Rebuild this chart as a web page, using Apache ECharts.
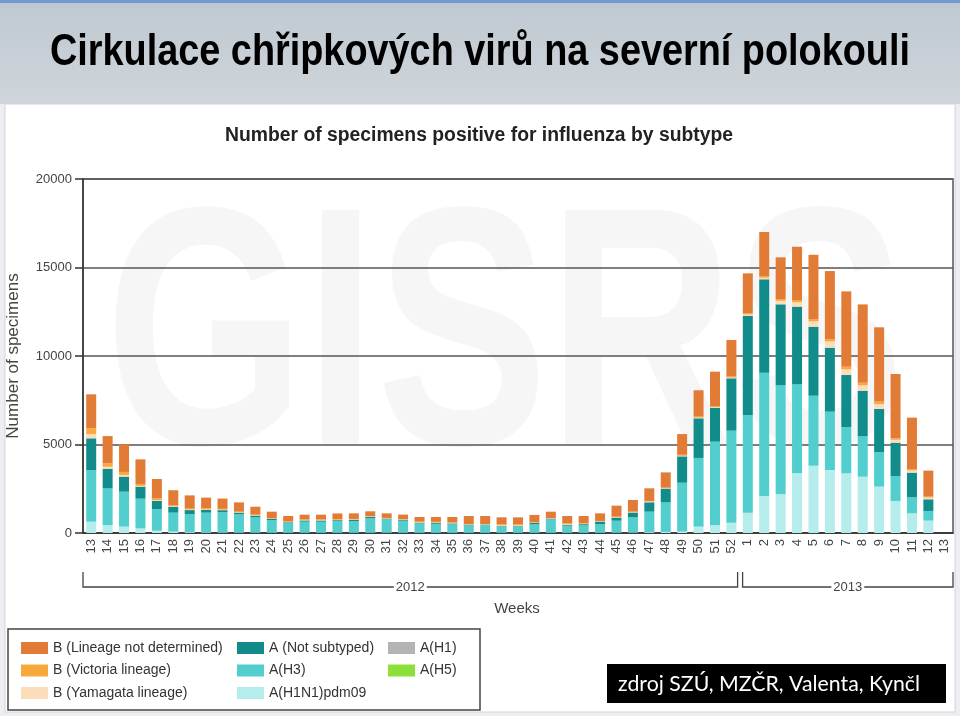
<!DOCTYPE html>
<html>
<head>
<meta charset="utf-8">
<script src="https://cdn.jsdelivr.net/npm/echarts/dist/echarts.min.js"></script>
<style>
  html, body { margin: 0; padding: 0; background: #ffffff; }
  #chart { width: 960px; height: 716px; }
</style>
</head>
<body>
<div id="chart"></div>
<script>
// ---------------- DATA ----------------
const weeks = ['13','14','15','16','17','18','19','20','21','22','23','24','25','26','27',
  '28','29','30','31','32','33','34','35','36','37','38','39','40','41','42','43','44','45','46',
  '47','48','49','50','51','52',
  '1','2','3','4','5','6','7','8','9','10','11','12','13'];
const years = ['2012', '2013'];

const pageTitle = 'Cirkulace chřipkových virů na severní polokouli';
const chartTitle = 'Number of specimens positive for influenza by subtype';
const yAxisTitle = 'Number of specimens';
const xAxisTitle = 'Weeks';
const sourceNote = 'zdroj SZÚ, MZČR, Valenta, Kynčl';

const seriesNames = ['B (Lineage not determined)', 'B (Victoria lineage)', 'B (Yamagata lineage)',
  'A (Not subtyped)', 'A(H3)', 'A(H1N1)pdm09', 'A(H1)', 'A(H5)'];

const bNotDetermined = [1920,1545,1560,1390,1075,850,750,600,580,525,450,375,300,265,265,
  320,315,265,260,265,260,275,305,450,450,395,405,410,360,400,400,430,620,660,
  715,865,1170,1490,1940,2070,
  2260,2485,2355,3010,3635,3840,4255,4425,4195,3635,2920,1470,0];
const bVictoria = [320,190,170,110,110,45,50,70,50,40,40,20,40,40,45,
  40,30,30,20,25,40,50,40,25,25,60,50,25,20,70,40,25,40,30,
  35,40,60,55,55,55,
  70,100,100,125,130,140,150,150,145,85,70,50,0];
const bYamagata = [245,110,95,40,40,30,30,30,25,20,20,15,15,20,20,
  20,20,20,15,15,20,20,20,15,15,40,40,15,15,40,20,15,20,20,
  40,20,30,40,40,40,
  80,90,200,250,300,350,320,300,270,160,120,100,0];
const aNotSubtyped = [1790,1110,850,680,470,340,225,150,110,90,90,60,60,70,70,
  50,70,80,40,40,40,50,50,40,30,30,30,80,40,40,70,130,170,270,
  530,770,1490,2240,1920,2960,
  5590,5270,4575,4390,3900,3615,2935,2580,2450,1885,1395,660,0];
const aH3 = [2920,2070,1975,1680,1225,1075,1020,1110,1150,1025,865,720,530,625,620,
  660,660,815,760,680,535,500,480,420,430,350,350,480,760,400,420,500,680,865,
  1155,1670,2760,3880,4710,5200,
  5520,6970,6160,5030,3955,3295,2620,2280,1940,1410,905,545,0];
const aH1N1pdm09 = [640,450,360,260,130,75,50,40,30,30,20,15,15,15,15,
  15,15,15,15,15,10,10,10,10,10,10,10,10,10,10,10,10,15,20,
  50,60,80,360,450,580,
  1150,2090,2185,3370,3800,3560,3370,3180,2620,1810,1110,700,0];
const aH1 = [0,0,0,0,0,0,0,0,0,0,0,0,0,0,0,0,0,0,0,0,0,0,0,0,0,0,0,0,0,0,0,0,0,0,0,0,0,0,0,0,0,0,0,0,0,0,0,0,0,0,0,0,0];
const aH5 = [0,0,0,0,0,0,0,0,0,0,0,0,0,0,0,0,0,0,0,0,0,0,0,0,0,0,0,0,0,0,0,0,0,0,0,0,0,0,0,0,0,0,0,0,0,0,0,0,0,0,0,0,0];

// ---------------- STYLE ----------------
const FONT = "'Liberation Sans', Arial, sans-serif";
const colors = {
  'B (Lineage not determined)': '#E27B36',
  'B (Victoria lineage)': '#F8A93B',
  'B (Yamagata lineage)': '#FCDDBB',
  'A (Not subtyped)': '#118C8B',
  'A(H3)': '#52CECF',
  'A(H1N1)pdm09': '#B5ECEC',
  'A(H1)': '#B4B4B4',
  'A(H5)': '#8BE03A'
};

function bar(name, data) {
  return { name, type: 'bar', stack: 'total', data, barWidth: 10,
    itemStyle: { color: colors[name] }, emphasis: { disabled: true } };
}

function fitScale(text, font, target) {
  const ctx = document.createElement('canvas').getContext('2d');
  ctx.font = font;
  return target / ctx.measureText(text).width;
}

const legendCommon = {
  orient: 'vertical', icon: 'rect', itemWidth: 27, itemHeight: 12, itemGap: 8.5,
  padding: 0, selectedMode: false,
  textStyle: { fontSize: 14, color: '#333', fontFamily: FONT, lineHeight: 13 }
};

const chart = echarts.init(document.getElementById('chart'), null, { renderer: 'canvas' });
chart.setOption({
  animation: false,
  backgroundColor: '#ffffff',
  textStyle: { fontFamily: FONT },
  grid: { left: 83, right: 7, top: 179, bottom: 183, show: true,
    borderColor: '#555', borderWidth: 1.5, backgroundColor: 'transparent' },
  legend: [
    Object.assign({}, legendCommon, { left: 21, top: 641, data: seriesNames.slice(0, 3) }),
    Object.assign({}, legendCommon, { left: 237, top: 641, data: seriesNames.slice(3, 6) }),
    Object.assign({}, legendCommon, { left: 388, top: 641, data: seriesNames.slice(6, 8) })
  ],
  xAxis: {
    type: 'category', data: weeks,
    axisLine: { lineStyle: { color: '#333', width: 1.5 } },
    axisTick: { alignWithLabel: true, length: 6, lineStyle: { color: '#333', width: 1.5 } },
    axisLabel: { rotate: 90, fontSize: 13, color: '#444', margin: 6, interval: 0 }
  },
  yAxis: {
    type: 'value', min: 0, max: 20000, interval: 5000,
    axisLine: { show: true, lineStyle: { color: '#333', width: 1.5 } },
    axisTick: { show: true, length: 8, lineStyle: { color: '#333', width: 1.5 } },
    axisLabel: { fontSize: 13, color: '#444', margin: 11, formatter: v => String(v) },
    splitLine: { lineStyle: { color: '#555', width: 1.5 } }
  },
  series: [
    bar('A(H1N1)pdm09', aH1N1pdm09),
    bar('A(H3)', aH3),
    bar('A(H1)', aH1),
    bar('A(H5)', aH5),
    bar('A (Not subtyped)', aNotSubtyped),
    bar('B (Yamagata lineage)', bYamagata),
    bar('B (Victoria lineage)', bVictoria),
    bar('B (Lineage not determined)', bNotDetermined)
  ]
});

// ---------------- DECORATION / ANNOTATIONS ----------------
const px = i => chart.convertToPixel({ xAxisIndex: 0 }, i);
const step = px(1) - px(0);
const boundary = i => px(0) + (i - 0.5) * step;
const yearStart = [0, weeks.indexOf('1'), weeks.length];

const titleFont = 'bold 44px ' + FONT;
const subFont = 'bold 20px ' + FONT;
const srcFont = "22px Lato, 'Open Sans', sans-serif";
const wmFont = 'bold 340px ' + FONT;

const g = [];
// page background and frame
g.push({ type: 'rect', z: -20, shape: { x: 0, y: 0, width: 960, height: 716 }, style: { fill: '#eeeef2' } });
g.push({ type: 'rect', z: -19, shape: { x: 5, y: 104, width: 950, height: 608 }, style: { fill: '#ffffff', stroke: '#d4d4d8', lineWidth: 1 } });
g.push({ type: 'rect', z: -18, shape: { x: 0, y: 0, width: 960, height: 104 },
  style: { fill: new echarts.graphic.LinearGradient(0, 0, 0, 1, [
    { offset: 0, color: '#bfc8d1' }, { offset: 1, color: '#cfd5da' }]) } });
g.push({ type: 'rect', z: -17, shape: { x: 0, y: 0, width: 960, height: 3 }, style: { fill: '#6f9ad4' } });
// watermark
g.push({ type: 'text', z: -15, x: 505, y: 350, scaleX: fitScale('GISRS', wmFont, 800),
  style: { text: 'GISRS', font: wmFont, fill: '#f6f6f6', textAlign: 'center', textVerticalAlign: 'middle' } });
// titles
g.push({ type: 'text', x: 480, y: 53, scaleX: fitScale(pageTitle, titleFont, 860),
  style: { text: pageTitle, font: titleFont, fill: '#000', textAlign: 'center', textVerticalAlign: 'middle' } });
g.push({ type: 'text', x: 479, y: 135, scaleX: fitScale(chartTitle, subFont, 508),
  style: { text: chartTitle, font: subFont, fill: '#222', textAlign: 'center', textVerticalAlign: 'middle' } });
// axis names
g.push({ type: 'text', x: 13, y: 356, rotation: Math.PI / 2,
  style: { text: yAxisTitle, font: '17px ' + FONT, fill: '#444', textAlign: 'center', textVerticalAlign: 'middle' } });
g.push({ type: 'text', x: 517, y: 609,
  style: { text: xAxisTitle, font: '15px ' + FONT, fill: '#444', textAlign: 'center', textVerticalAlign: 'middle' } });
// year brackets
years.forEach((yr, k) => {
  const xa = boundary(yearStart[k]) + (k === 0 ? 0 : 3);
  const xb = boundary(yearStart[k + 1]) - (k === 0 ? 2 : 0);
  g.push({ type: 'polyline', shape: { points: [[xa, 572], [xa, 587], [xb, 587], [xb, 572]] },
    style: { stroke: '#444', lineWidth: 1.3, fill: null } });
  g.push({ type: 'text', x: (xa + xb) / 2, y: 587,
    style: { text: yr, font: '13px ' + FONT, fill: '#444', textAlign: 'center', textVerticalAlign: 'middle',
      backgroundColor: '#fff', padding: [0, 2] } });
});
// legend frame
g.push({ type: 'rect', z: -5, shape: { x: 8, y: 629, width: 472, height: 81 },
  style: { fill: '#fff', stroke: '#444', lineWidth: 1.5 } });
// source note
g.push({ type: 'rect', shape: { x: 607, y: 664, width: 339, height: 39 }, style: { fill: '#000' } });
g.push({ type: 'text', x: 618, y: 684, scaleX: fitScale(sourceNote, srcFont, 302),
  style: { text: sourceNote, font: srcFont, fill: '#fff', textAlign: 'left', textVerticalAlign: 'middle' } });

chart.setOption({ graphic: g });
</script>
</body>
</html>
